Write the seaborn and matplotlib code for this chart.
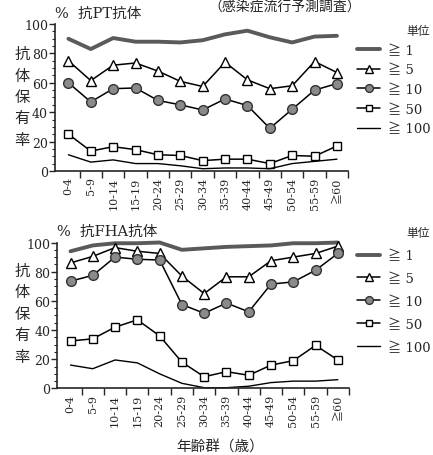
import numpy as np
import pandas as pd
import matplotlib
matplotlib.use("Agg")
import matplotlib.pyplot as plt
import seaborn as sns
from matplotlib.lines import Line2D

sns.set_style("ticks")
plt.rcParams['font.family'] = ['DejaVu Serif', 'Noto Sans CJK JP']

# age groups
ages = ['0-4', '5-9', '10-14', '15-19', '20-24', '25-29', '30-34',
        '35-39', '40-44', '45-49', '50-54', '55-59', '≧60']
units = ['≧ 1', '≧ 5', '≧ 10', '≧ 50', '≧ 100']

# anti-PT antibody (%)
pt_1 = [90, 83, 90.5, 88, 88, 87.5, 89, 93, 95.5, 91, 87.5, 91.5, 92]
pt_5 = [75, 61.5, 72, 73.5, 68, 61, 57.5, 74, 62, 56, 58, 74.5, 67]
pt_10 = [60, 47, 56, 56.5, 48, 45, 41.5, 49, 44.5, 29, 42, 55, 59.5]
pt_50 = [25, 13.5, 16.5, 14.5, 11, 10.5, 7, 8, 8, 5, 10.5, 10, 17]
pt_100 = [11, 6, 7.5, 5, 5, 3.5, 1.5, 2, 2, 1.5, 5, 6.5, 8]

# anti-FHA antibody (%)
fha_1 = [94, 98, 99.5, 99.5, 100, 95, 96, 97, 97.5, 98, 99.5, 99.5, 100]
fha_5 = [86, 90.5, 96.5, 94, 92.5, 77, 65, 76.5, 76.5, 87.5, 90, 92.5, 97.5]
fha_10 = [73.5, 77.5, 90, 88.5, 88, 57.5, 51.5, 58.5, 52.5, 71.5, 73, 81, 92.5]
fha_50 = [32.5, 34, 42, 47, 36, 18, 8, 11.5, 9, 16, 19, 29.5, 19.5]
fha_100 = [16, 13.5, 19.5, 17.5, 10, 3.5, 0.5, 0.5, 1.5, 4, 5, 5, 6]

pos = np.arange(len(ages))

styles = [
    dict(color='#5a5a5a', linewidth=2.8),
    dict(color='black', linewidth=1.1, marker='^', markersize=7,
         markerfacecolor='white', markeredgecolor='black', markeredgewidth=1),
    dict(color='black', linewidth=1.1, marker='o', markersize=7,
         markerfacecolor='#8a8a8a', markeredgecolor='#333333', markeredgewidth=1),
    dict(color='black', linewidth=1.1, marker='s', markersize=6,
         markerfacecolor='white', markeredgecolor='black', markeredgewidth=1),
    dict(color='black', linewidth=1.0),
]

fig = plt.figure(figsize=(4.33, 4.56), dpi=100)
ax1 = fig.add_axes([0.127, 0.623, 0.677, 0.322])
ax2 = fig.add_axes([0.132, 0.146, 0.674, 0.320])


def draw(ax, series, title, ylab_y):
    for vals, st in zip(series, styles):
        sns.lineplot(x=pos, y=vals, ax=ax, clip_on=False, legend=False, **st)
    ax.set_xlim(-0.6, 12.5)
    ax.set_ylim(0, 100)
    sns.despine(ax=ax)
    ax.spines['left'].set_linewidth(1.2)
    ax.spines['bottom'].set_linewidth(1.2)
    ax.set_yticks([0, 20, 40, 60, 80, 100])
    ax.set_yticks(np.arange(0, 101, 5), minor=True)
    ax.tick_params(axis='y', which='major', length=4, width=1, labelsize=9, pad=1)
    ax.tick_params(axis='y', which='minor', length=2, width=0.8)
    # tick marks between groups, labels at group centres
    ax.set_xticks(np.arange(0.5, 12.6, 1))
    ax.set_xticklabels([])
    ax.set_xticks(pos, minor=True)
    ax.set_xticklabels(ages, minor=True, rotation=90, fontsize=8)
    ax.tick_params(axis='x', which='major', length=5, width=1)
    ax.tick_params(axis='x', which='minor', length=0, pad=4)
    ax.set_xlabel('')
    ax.set_ylabel('')
    ax.text(0.0, 1.03, '%  ' + title, transform=ax.transAxes, fontsize=10.5,
            ha='left', va='bottom')
    for i, ch in enumerate('抗体保有率'):
        fig.text(22 / 433, 1 - (ylab_y + 21.5 * i) / 456, ch, fontsize=11,
                 ha='center', va='center')


draw(ax1, [pt_1, pt_5, pt_10, pt_50, pt_100], '抗PT抗体', 55)
draw(ax2, [fha_1, fha_5, fha_10, fha_50, fha_100], '抗FHA抗体', 272)

handles = [Line2D([], [], **{**st, 'markersize': st.get('markersize', 0) * 0.8})
           for st in styles]
for ytop, sp in ((24, 0.5), (226, 0.75)):
    leg = fig.legend(handles, units, title='単位', loc='upper left',
                     bbox_to_anchor=(356 / 433, 1 - ytop / 456), frameon=False,
                     fontsize=9.5, title_fontsize=8.5, handlelength=1.7,
                     handletextpad=0.6, labelspacing=sp, borderpad=0.1,
                     borderaxespad=0)
    leg._legend_box.align = 'right'

fig.text(285 / 433, 1.0, '（感染症流行予測調査）', fontsize=10,
         ha='center', va='top')
fig.text(220 / 433, 1 - 448 / 456, '年齢群（歳）', fontsize=10.5,
         ha='center', va='center')

fig.savefig('out.png', dpi=100)
